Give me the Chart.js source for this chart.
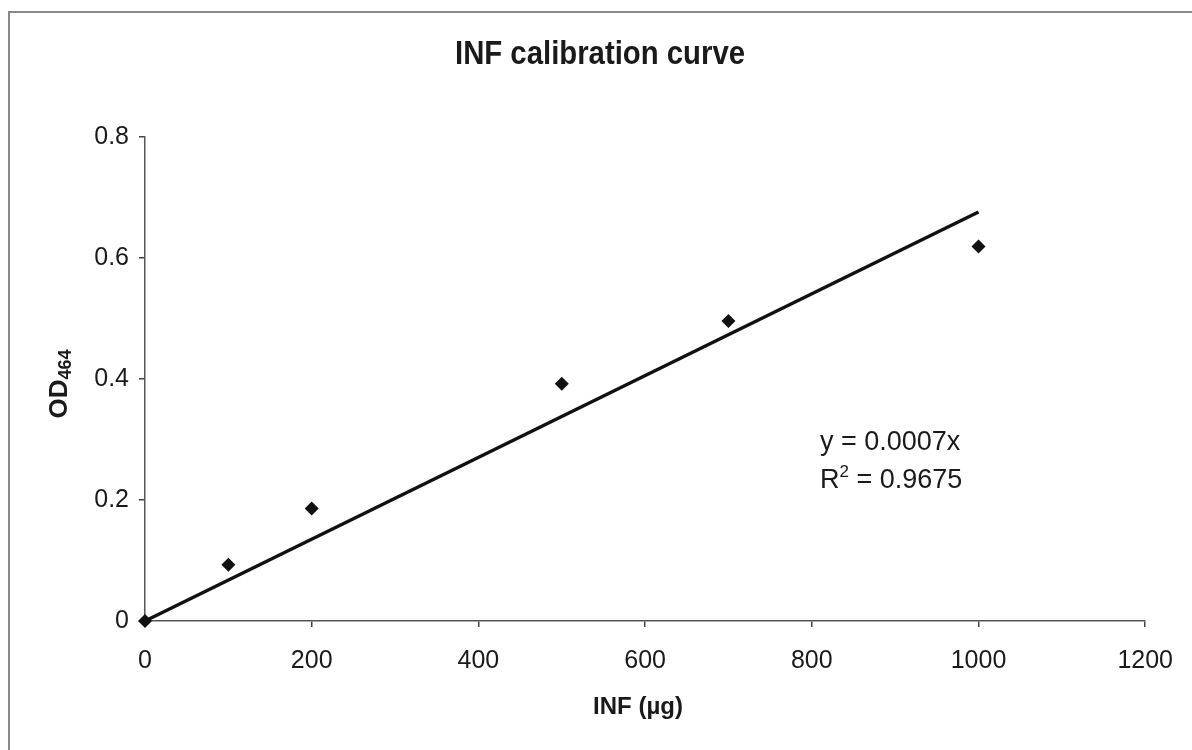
<!DOCTYPE html>
<html>
<head>
<meta charset="utf-8">
<title>INF calibration curve</title>
<script src="https://cdn.jsdelivr.net/npm/chart.js@4.4.1/dist/chart.umd.min.js"></script>
<style>
  html, body { margin: 0; padding: 0; background: #fff; }
  #wrap { width: 1192px; height: 750px; }
</style>
</head>
<body>
<div id="wrap"><canvas id="grafico" width="1192" height="750"></canvas></div>
<script>
// dados
const doses = [0, 100, 200, 500, 700, 1000];
const absorbancias = [0, 0.093, 0.186, 0.392, 0.496, 0.619];
const trendX = [0, 1000];
const trendY = [0, 0.676];
const xTicks = [0, 200, 400, 600, 800, 1000, 1200];
const yTicks = [0, 0.2, 0.4, 0.6, 0.8];
const equacao = ["y = 0.0007x", "R", "2", " = 0.9675"];

const fonteNormal = "'Liberation Sans', Arial, sans-serif";

// moldura, titulo e textos extras
const textosPlugin = {
  id: "textos",
  beforeDraw(chart) {
    const c = chart.ctx;
    c.save();
    c.fillStyle = "#fff";
    c.fillRect(0, 0, chart.width, chart.height);
    c.strokeStyle = "#8a8a8a";
    c.lineWidth = 2;
    c.strokeRect(9, 12, chart.width + 10, chart.height + 10);
    c.restore();
  },
  afterDraw(chart) {
    const c = chart.ctx;
    const area = chart.chartArea;
    c.save();
    c.fillStyle = "#1a1a1a";
    c.textAlign = "center";
    c.textBaseline = "middle";

    // titulo (estilo Arial Narrow: fonte comprimida na horizontal)
    c.save();
    c.font = "bold 34px " + fonteNormal;
    const wTit = c.measureText("INF calibration curve").width;
    c.translate(600, 55);
    c.scale(290 / wTit, 1);
    c.fillText("INF calibration curve", 0, 0);
    c.restore();

    // titulo do eixo x
    c.font = "bold 24px " + fonteNormal;
    c.fillText("INF (\u00b5g)", 638, 707);

    // titulo do eixo y com subscrito
    c.save();
    c.translate(67, (area.top + area.bottom) / 2 + 5);
    c.rotate(-Math.PI / 2);
    c.textAlign = "left";
    c.textBaseline = "alphabetic";
    c.font = "bold 26px " + fonteNormal;
    const wOD = c.measureText("OD").width;
    c.font = "bold 18px " + fonteNormal;
    const wSub = c.measureText("464").width;
    const x0 = -(wOD + wSub) / 2;
    c.font = "bold 26px " + fonteNormal;
    c.fillText("OD", x0, 0);
    c.font = "bold 18px " + fonteNormal;
    c.fillText("464", x0 + wOD, 4);
    c.restore();

    // equacao da linha de tendencia
    const eqX = 820;
    c.textAlign = "left";
    c.textBaseline = "middle";
    c.font = "27px " + fonteNormal;
    c.fillText(equacao[0], eqX, 443);
    c.fillText(equacao[1], eqX, 481);
    const wR = c.measureText(equacao[1]).width;
    c.font = "17px " + fonteNormal;
    c.fillText(equacao[2], eqX + wR, 472);
    const w2 = c.measureText(equacao[2]).width;
    c.font = "27px " + fonteNormal;
    c.fillText(equacao[3], eqX + wR + w2, 481);
    c.restore();
  }
};

const ctx = document.getElementById("grafico").getContext("2d");

new Chart(ctx, {
  type: "scatter",
  data: {
    datasets: [
      {
        label: "Tendencia",
        type: "line",
        data: trendX.map((x, i) => ({ x: x, y: trendY[i] })),
        borderColor: "#111",
        borderWidth: 3.5,
        pointRadius: 0,
        fill: false,
        clip: false,
        order: 2
      },
      {
        label: "INF",
        data: doses.map((x, i) => ({ x: x, y: absorbancias[i] })),
        pointStyle: "rectRot",
        pointRadius: 7,
        backgroundColor: "#111",
        borderColor: "#111",
        borderWidth: 0,
        clip: false,
        order: 1
      }
    ]
  },
  options: {
    responsive: false,
    animation: false,
    layout: {
      padding: { left: 0, right: 41, top: 137, bottom: 0 }
    },
    plugins: {
      legend: { display: false },
      title: { display: false },
      tooltip: { enabled: false }
    },
    scales: {
      x: {
        type: "linear",
        min: 0,
        max: 1200,
        afterBuildTicks(axis) {
          axis.ticks = xTicks.map(v => ({ value: v }));
        },
        afterFit(axis) {
          axis.height = 129;
        },
        grid: {
          drawOnChartArea: false,
          drawTicks: true,
          tickLength: 6,
          color: "#444",
          lineWidth: 1.5
        },
        border: { color: "#555", width: 1.5 },
        ticks: {
          color: "#1a1a1a",
          padding: 19,
          maxRotation: 0,
          font: { family: fonteNormal, size: 25 },
          callback: v => String(v)
        }
      },
      y: {
        type: "linear",
        min: 0,
        max: 0.8,
        afterBuildTicks(axis) {
          axis.ticks = yTicks.map(v => ({ value: v }));
        },
        afterFit(axis) {
          axis.width = 145;
        },
        grid: {
          drawOnChartArea: false,
          drawTicks: true,
          tickLength: 6,
          color: "#444",
          lineWidth: 1.5
        },
        border: { color: "#555", width: 1.5 },
        ticks: {
          color: "#1a1a1a",
          padding: 10,
          font: { family: fonteNormal, size: 25 },
          callback: v => String(v)
        }
      }
    }
  },
  plugins: [textosPlugin]
});
</script>
</body>
</html>
